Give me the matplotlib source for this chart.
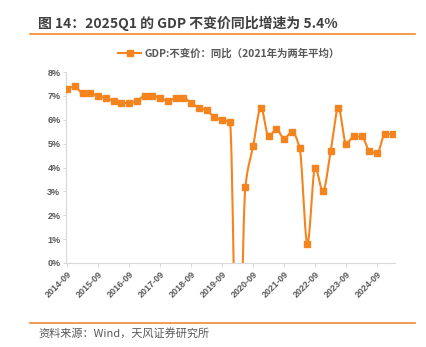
import numpy as np
import matplotlib
matplotlib.use("Agg")
import matplotlib.pyplot as plt
from matplotlib.lines import Line2D

plt.rcParams['font.family'] = ['Noto Sans CJK SC', 'DejaVu Sans']

quarters = ["2014-09", "2014-12", "2015-03", "2015-06", "2015-09", "2015-12",
            "2016-03", "2016-06", "2016-09", "2016-12", "2017-03", "2017-06",
            "2017-09", "2017-12", "2018-03", "2018-06", "2018-09", "2018-12",
            "2019-03", "2019-06", "2019-09", "2019-12", "2020-03", "2020-06",
            "2020-09", "2020-12", "2021-03", "2021-06", "2021-09", "2021-12",
            "2022-03", "2022-06", "2022-09", "2022-12", "2023-03", "2023-06",
            "2023-09", "2023-12", "2024-03", "2024-06", "2024-09", "2024-12",
            "2025-03"]
gdp_yoy = [7.3, 7.4, 7.1, 7.1, 7.0, 6.9,
           6.8, 6.7, 6.7, 6.8, 7.0, 7.0,
           6.9, 6.8, 6.9, 6.9, 6.7, 6.5,
           6.4, 6.1, 6.0, 5.9, -6.8, 3.2,
           4.9, 6.5, 5.3, 5.6, 5.2, 5.5,
           4.8, 0.8, 4.0, 3.0, 4.7, 6.5,
           5.0, 5.3, 5.3, 4.7, 4.6, 5.4,
           5.4]
y_ticks = [0, 1, 2, 3, 4, 5, 6, 7, 8]
series_name = "GDP:不变价：同比（2021年为两年平均）"
title = "图 14：2025Q1 的 GDP 不变价同比增速为 5.4%"
source = "资料来源：Wind，天风证券研究所"

ORANGE = "#F5841F"
GRAY = "#595959"
AXIS = "#D9D9D9"

x = np.arange(len(quarters), dtype=float)
y = np.array(gdp_yoy, dtype=float)


def smooth(xp, yp, n=14):
    """Monotone cubic (Fritsch-Carlson) path through the points."""
    h = np.diff(xp)
    d = np.diff(yp) / h
    m = np.zeros_like(yp)
    m[0], m[-1] = d[0], d[-1]
    for i in range(1, len(yp) - 1):
        if d[i - 1] * d[i] <= 0:
            m[i] = 0.0
        else:
            w1 = 2 * h[i] + h[i - 1]
            w2 = h[i] + 2 * h[i - 1]
            m[i] = (w1 + w2) / (w1 / d[i - 1] + w2 / d[i])
    sx, sy = [], []
    t = np.linspace(0, 1, n, endpoint=False)
    for i in range(len(xp) - 1):
        h00 = 2 * t ** 3 - 3 * t ** 2 + 1
        h10 = t ** 3 - 2 * t ** 2 + t
        h01 = -2 * t ** 3 + 3 * t ** 2
        h11 = t ** 3 - t ** 2
        sx.extend(xp[i] + t * h[i])
        sy.extend(h00 * yp[i] + h10 * h[i] * m[i] + h01 * yp[i + 1] + h11 * h[i] * m[i + 1])
    sx.append(xp[-1]); sy.append(yp[-1])
    return np.array(sx), np.array(sy)


fig = plt.figure(figsize=(4.27, 3.47), dpi=100)
ax = fig.add_axes([66 / 427, 1 - 263 / 347, (395 - 66) / 427, (263 - 72) / 347])

sx, sy = smooth(x, y)
ax.plot(sx, sy, color=ORANGE, lw=1.5, solid_capstyle='round', zorder=2)
ax.plot(x, y, ls='none', marker='s', ms=4.2, color=ORANGE, mec=ORANGE, zorder=3)

ax.set_xlim(-0.15, 42.3)
ax.set_ylim(0, 8)
ax.set_yticks(y_ticks)
ax.set_yticklabels([f"{v}%" for v in y_ticks])
tick_idx = list(range(0, len(quarters), 4))
ax.set_xticks(tick_idx)
ax.set_xticklabels([quarters[i] for i in tick_idx], rotation=45, ha='right',
                   rotation_mode='anchor')

for s in ['top', 'right']:
    ax.spines[s].set_visible(False)
for s in ['left', 'bottom']:
    ax.spines[s].set_color(AXIS)
    ax.spines[s].set_linewidth(0.8)
ax.tick_params(axis='both', colors=AXIS, length=3, width=0.8)
ax.tick_params(axis='y', length=2)
for lab in ax.get_xticklabels() + ax.get_yticklabels():
    lab.set_color(GRAY)
    lab.set_fontsize(6.5)
    lab.set_fontweight('bold')
    lab.set_family(['Liberation Sans', 'DejaVu Sans'])
ax.tick_params(axis='x', pad=2)
ax.tick_params(axis='y', pad=2)

# Title and decorations
fig.text(38 / 427, 1 - 23 / 347, title, fontsize=10, fontweight='bold',
         color="#404040", va='center', ha='left')
fig.add_artist(Line2D([30 / 427, 415 / 427], [1 - 34 / 347, 1 - 34 / 347],
                      color="#F08A30", lw=1.2, transform=fig.transFigure))
fig.add_artist(Line2D([30 / 427, 415 / 427], [1 - 322.5 / 347, 1 - 322.5 / 347],
                      color="#F08A30", lw=1.2, transform=fig.transFigure))
fig.text(38 / 427, 1 - 333 / 347, source, fontsize=8, color=GRAY,
         va='center', ha='left')

# Legend
handle = Line2D([], [], color=ORANGE, lw=1.5, marker='s', ms=4.2)
leg = fig.legend([handle], [series_name], loc='center',
                 bbox_to_anchor=(229 / 427, 1 - 53 / 347), frameon=False,
                 handlelength=2.2, handletextpad=0.3,
                 prop={'size': 7.5, 'weight': 'bold'})
for t in leg.get_texts():
    t.set_color(GRAY)

fig.savefig("out.png", dpi=100)
